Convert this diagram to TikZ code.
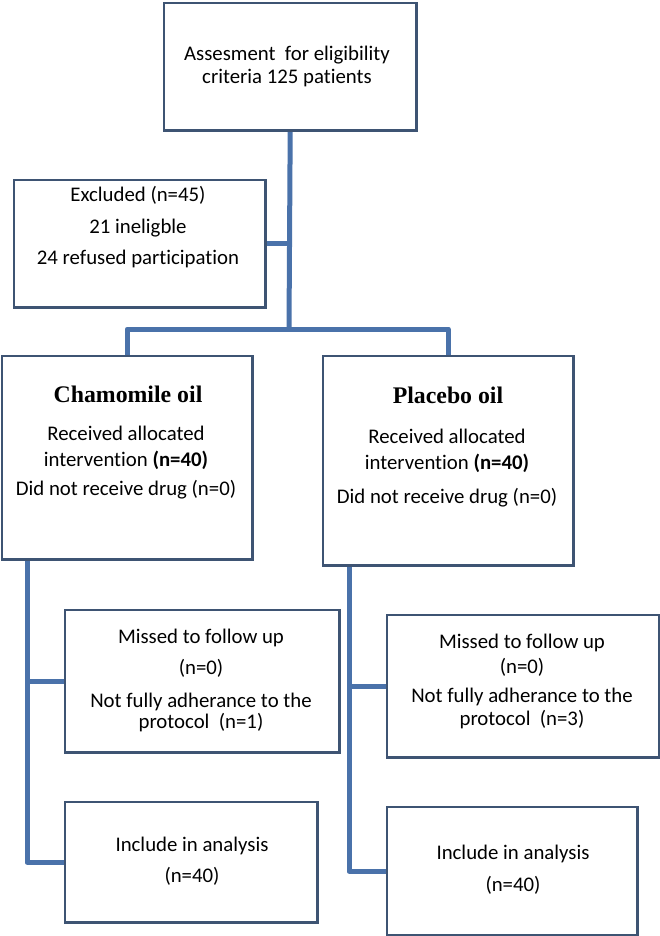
\documentclass[tikz,border=0pt]{standalone}
\usepackage{fontspec}
\setmainfont[Ligatures=NoCommon]{Carlito}
\newfontfamily\headfont{Liberation Serif}
\definecolor{conn}{RGB}{74,114,170}
\definecolor{boxc}{RGB}{62,84,115}
\begin{document}
\begin{tikzpicture}[x=1pt,y=-1pt,
 box/.style={draw=boxc, line width=2.4pt, inner sep=0pt, anchor=north west},
 wire/.style={draw=conn, line width=5pt, line join=round},
 txt/.style={anchor=base, inner sep=0pt, font=\fontsize{20.8}{24}\selectfont},
 head/.style={anchor=base, inner sep=0pt, font=\headfont\bfseries\fontsize{23.8}{27}\selectfont}]
\useasboundingbox (0,0) rectangle (660,936);
% coordinates for trunks
\coordinate (j1) at (289,329);
\coordinate (cL) at (27,0);
\coordinate (cR) at (349,0);
% box frames (outlines drawn after the wires)
\path (164,3) node[box, minimum width=250pt, minimum height=125pt, draw=none] (top) {};
\path (14,180) node[box, minimum width=249pt, minimum height=125pt, draw=none] (excl) {};
\path (2,356) node[box, minimum width=248pt, minimum height=201pt, draw=none] (cham) {};
\path (323,356) node[box, minimum width=248pt, minimum height=207pt, draw=none] (plac) {};
\path (65,610) node[box, minimum width=272pt, minimum height=140pt, draw=none] (missL) {};
\path (387,615) node[box, minimum width=270pt, minimum height=140pt, draw=none] (missR) {};
\path (65,802) node[box, minimum width=250pt, minimum height=118pt, draw=none] (incL) {};
\path (387,807) node[box, minimum width=248pt, minimum height=126pt, draw=none] (incR) {};
\draw[wire] (top.south) -- (j1);
\draw[wire] (excl.east) -- (excl.east -| j1);
\draw[wire] (cham.north) |- (j1) -| (plac.north);
\draw[wire] (cham.south -| cL) -- (cL |- incL.west) -- (incL.west);
\draw[wire] (missL.west -| cL) -- (missL.west);
\draw[wire] (plac.south -| cR) -- (cR |- incR.west) -- (incR.west);
\draw[wire] (missR.west -| cR) -- (missR.west);
% box outlines on top
\foreach \b in {top,excl,cham,plac,missL,missR,incL,incR}
  \draw[boxc, line width=2.4pt] (\b.north west) rectangle (\b.south east);
% texts
\node[txt] (t1) at (287,61) {Assesment\ \ for eligibility};
\node[txt] (t2) at (287,84) {criteria 125 patients};
\node[txt] (e1) at (138,201) {Excluded (n=45)};
\node[txt] (e2) at (138,233) {21 ineligble};
\node[txt] (e3) at (138,264) {24 refused participation};
\node[head] (ch) at (128,402) {Chamomile oil};
\node[txt] (c1) at (126,440) {Received allocated};
\node[txt] (c2) at (126,466) {intervention \textbf{(n=40)}};
\node[txt] (c3) at (126,495) {Did not receive drug (n=0)};
\node[head] (ph) at (448,403) {Placebo oil};
\node[txt] (p1) at (447,443) {Received allocated};
\node[txt] (p2) at (447,469) {intervention \textbf{(n=40)}};
\node[txt] (p3) at (447,503) {Did not receive drug (n=0)};
\node[txt] (ml1) at (201,643) {Missed to follow up};
\node[txt] (ml2) at (201,674) {(n=0)};
\node[txt] (ml3) at (201,707) {Not fully adherance to the};
\node[txt] (ml4) at (201,728) {protocol\ \ (n=1)};
\node[txt] (mr1) at (522,648) {Missed to follow up};
\node[txt] (mr2) at (522,673) {(n=0)};
\node[txt] (mr3) at (522,702) {Not fully adherance to the};
\node[txt] (mr4) at (522,725) {protocol\ \ (n=3)};
\node[txt] (il1) at (192,851) {Include in analysis};
\node[txt] (il2) at (192,882) {(n=40)};
\node[txt] (ir1) at (513,859) {Include in analysis};
\node[txt] (ir2) at (513,891) {(n=40)};
\end{tikzpicture}
\end{document}
